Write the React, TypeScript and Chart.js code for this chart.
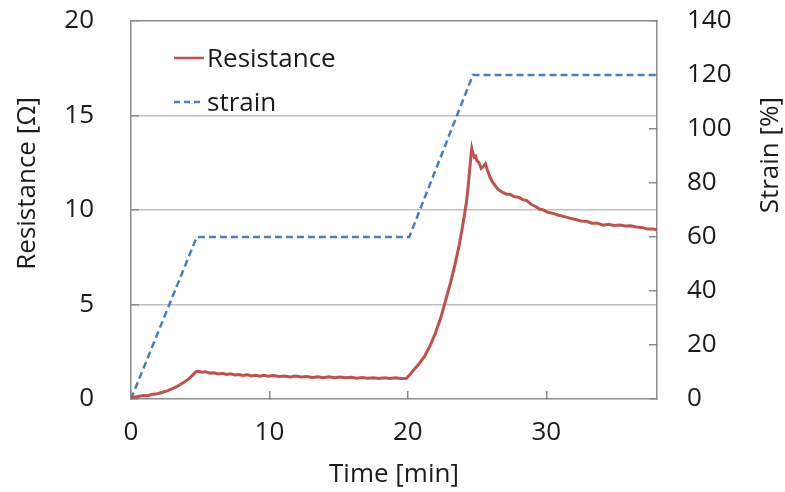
import { useEffect, useRef } from 'react';
import { Chart, registerables } from 'chart.js';

Chart.register(...registerables);

// Resistance curve (time in min, resistance in Ω)
const timeR = [
  0, 0.3, 0.6, 0.9, 1.2, 1.5, 1.8, 2.1, 2.4, 2.7, 3.0, 3.3, 3.6, 3.9, 4.2, 4.5, 4.7, 4.9,
  5.1, 5.4, 5.7, 6.0, 6.3, 6.6, 6.9, 7.2, 7.5, 7.8, 8.1, 8.4, 8.7, 9.0, 9.3, 9.6, 9.9,
  10.3, 10.7, 11.1, 11.5, 11.9, 12.3, 12.7, 13.1, 13.5, 13.9, 14.3, 14.7, 15.1, 15.5,
  15.9, 16.3, 16.7, 17.1, 17.5, 17.9, 18.3, 18.7, 19.1, 19.5, 19.9, 20.1, 20.4, 20.8,
  21.2, 21.6, 22.0, 22.4, 22.8, 23.1, 23.4, 23.7, 23.9, 24.1, 24.25, 24.35, 24.45, 24.55,
  24.62, 24.7, 24.8, 24.9, 25.0, 25.15, 25.3, 25.45, 25.6, 25.75, 25.9, 26.1, 26.3, 26.5,
  26.8, 27.1, 27.4, 27.7, 28.0, 28.3, 28.6, 28.9, 29.2, 29.5, 29.8, 30.1, 30.5, 30.9,
  31.3, 31.7, 32.1, 32.5, 32.9, 33.3, 33.7, 34.1, 34.5, 34.9, 35.3, 35.7, 36.1, 36.5,
  36.9, 37.3, 37.7, 38.0,
];
const resistance = [
  0.12, 0.1, 0.15, 0.18, 0.17, 0.24, 0.26, 0.32, 0.38, 0.46, 0.55, 0.65, 0.78, 0.92, 1.08, 1.3, 1.45, 1.47,
  1.42, 1.44, 1.37, 1.39, 1.33, 1.36, 1.3, 1.33, 1.27, 1.3, 1.25, 1.28, 1.22, 1.26, 1.21, 1.25, 1.2,
  1.24, 1.19, 1.22, 1.17, 1.21, 1.16, 1.19, 1.14, 1.18, 1.13, 1.17, 1.12, 1.16, 1.12,
  1.15, 1.1, 1.14, 1.1, 1.13, 1.09, 1.12, 1.08, 1.12, 1.08, 1.1, 1.25, 1.52, 1.85,
  2.25, 2.8, 3.5, 4.35, 5.4, 6.2, 7.1, 8.1, 8.9, 9.8, 10.5, 11.2, 12.0, 12.8,
  13.25, 13.0, 12.8, 12.85, 12.6, 12.5, 12.2, 12.3, 12.45, 12.1, 11.8, 11.5, 11.3, 11.1,
  10.95, 10.85, 10.82, 10.7, 10.68, 10.55, 10.5, 10.3, 10.2, 10.05, 10.0, 9.88, 9.82, 9.72,
  9.65, 9.57, 9.5, 9.42, 9.4, 9.3, 9.3, 9.2, 9.25, 9.18, 9.2, 9.15, 9.16, 9.1,
  9.08, 9.0, 9.0, 8.95,
];

// Strain profile (time in min, strain in %)
const timeS = [0, 4.75, 20.1, 24.7, 38];
const strain = [0, 60, 60, 120, 120];

const seriesLabels = ['Resistance', 'strain'];
const axisTitles = { x: 'Time [min]', y: 'Resistance [Ω]', y1: 'Strain [%]' };

const FAMILY = "'Open Sans', 'Noto Sans', sans-serif";
const FONT_SIZE = 26;
const TEXT = '#1a1a1a';
const AXIS = '#8c8c8c';
const GRID = '#bfbfbf';
const RED = '#c0504d';
const BLUE = '#4a7ebb';

const overlayPlugin = {
  id: 'overlay',
  afterDraw(chart: any) {
    const { ctx, chartArea } = chart;
    ctx.save();
    ctx.font = `${FONT_SIZE}px ${FAMILY}`;
    ctx.fillStyle = TEXT;
    // legend inside the plot area
    chart.data.datasets.forEach((ds: any, i: number) => {
      const ly = chartArea.top + 37 + i * 44;
      const lx = chartArea.left + 43;
      ctx.save();
      ctx.strokeStyle = ds.borderColor;
      ctx.lineWidth = 2.5;
      ctx.setLineDash(ds.borderDash && ds.borderDash.length ? [6, 4] : []);
      ctx.beginPath();
      ctx.moveTo(lx, ly);
      ctx.lineTo(lx + 30, ly);
      ctx.stroke();
      ctx.restore();
      ctx.textAlign = 'left';
      ctx.textBaseline = 'alphabetic';
      ctx.fillText(ds.label, lx + 33, ly + 9);
    });
    // rotated y-axis titles, top-anchored like the original
    ['y', 'y1'].forEach((id) => {
      const s = chart.scales[id];
      const text = s.options.title.text;
      const cx = id === 'y' ? s.left + 27.5 : s.right - 14.5;
      ctx.save();
      ctx.translate(cx, chartArea.top + 76);
      ctx.rotate(-Math.PI / 2);
      ctx.textAlign = 'right';
      ctx.textBaseline = 'middle';
      ctx.fillText(text, 0, 0);
      ctx.restore();
    });
    ctx.restore();
  },
};

export default function App() {
  const canvasRef = useRef<HTMLCanvasElement | null>(null);

  useEffect(() => {
    if (!canvasRef.current) return;
    const font = { family: FAMILY, size: FONT_SIZE };
    const chart = new Chart(canvasRef.current, {
      type: 'line',
      data: {
        datasets: [
          {
            label: seriesLabels[0],
            data: timeR.map((t, i) => ({ x: t, y: resistance[i] })),
            borderColor: RED,
            backgroundColor: RED,
            borderWidth: 3,
            pointRadius: 0,
            tension: 0,
            xAxisID: 'x',
            yAxisID: 'y',
          },
          {
            label: seriesLabels[1],
            data: timeS.map((t, i) => ({ x: t, y: strain[i] })),
            borderColor: BLUE,
            backgroundColor: BLUE,
            borderWidth: 2.5,
            borderDash: [7, 4],
            pointRadius: 0,
            tension: 0,
            xAxisID: 'x',
            yAxisID: 'y1',
          },
        ],
      },
      options: {
        responsive: false,
        animation: false,
        layout: { padding: 0 },
        plugins: { legend: { display: false }, tooltip: { enabled: false } },
        scales: {
          x: {
            type: 'linear',
            position: 'bottom',
            min: 0,
            max: 38,
            ticks: { stepSize: 10, includeBounds: false, font, color: TEXT, padding: 26 },
            grid: { drawOnChartArea: false, drawTicks: true, tickLength: -8, color: AXIS, lineWidth: 1.5 },
            border: { display: true, color: AXIS, width: 1.5 },
            title: { display: true, text: axisTitles.x, font, color: TEXT, padding: { top: 0, bottom: 2 } },
            afterFit: (s: any) => { s.height = 93; s.paddingLeft = 0; s.paddingRight = 0; },
          },
          xTop: {
            type: 'linear',
            position: 'top',
            min: 0,
            max: 38,
            ticks: { display: false, includeBounds: false },
            grid: { display: false },
            border: { display: true, color: AXIS, width: 1.5 },
            afterFit: (s: any) => { s.height = 21; s.paddingLeft = 0; s.paddingRight = 0; },
          },
          y: {
            type: 'linear',
            position: 'left',
            min: 0,
            max: 20,
            ticks: { stepSize: 5, font, color: TEXT, padding: 45 },
            grid: {
              drawOnChartArea: true,
              drawTicks: true,
              tickLength: -8,
              color: (c: any) => (c.tick && (c.tick.value === 0 || c.tick.value === 20) ? 'rgba(0,0,0,0)' : GRID),
              lineWidth: 1.5,
              tickColor: AXIS,
              tickWidth: 1.5,
            },
            border: { display: true, color: AXIS, width: 1.5 },
            title: { display: false, text: axisTitles.y },
            afterFit: (s: any) => { s.width = 131; s.paddingTop = 0; s.paddingBottom = 0; },
          },
          y1: {
            type: 'linear',
            position: 'right',
            min: 0,
            max: 140,
            ticks: { stepSize: 20, font, color: TEXT, padding: 38 },
            grid: { drawOnChartArea: false, drawTicks: true, tickLength: -8, color: AXIS, lineWidth: 1.5 },
            border: { display: true, color: AXIS, width: 1.5 },
            title: { display: false, text: axisTitles.y1 },
            afterFit: (s: any) => { s.width = 128; s.paddingTop = 0; s.paddingBottom = 0; },
          },
        },
      },
      plugins: [overlayPlugin],
    });
    return () => chart.destroy();
  }, []);

  return (
    <div style={{ position: 'fixed', left: 0, top: 0, width: 785, height: 492, background: '#fff' }}>
      <canvas ref={canvasRef} width={785} height={492} style={{ display: 'block' }} />
    </div>
  );
}
